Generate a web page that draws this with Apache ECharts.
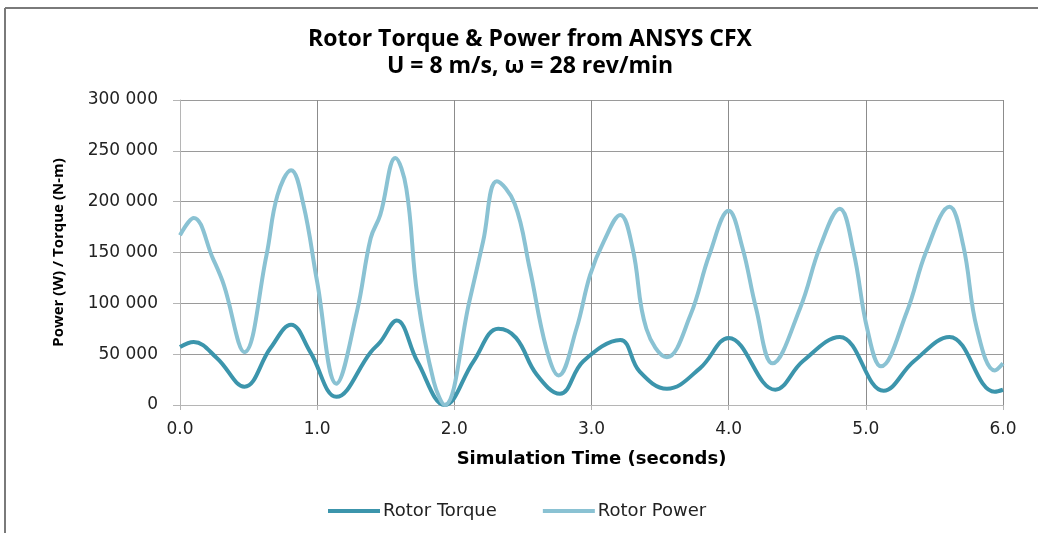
<!DOCTYPE html>
<html>
<head>
<meta charset="utf-8">
<script src="https://cdn.jsdelivr.net/npm/echarts@6/dist/echarts.min.js"></script>
<style>
  html, body { margin: 0; padding: 0; background: #fff; }
  #chart { width: 1038px; height: 533px; }
</style>
</head>
<body>
<div id="chart"></div>
<script>
// values (seconds, N-m / W)
const torqueTime = [0.00, 0.10, 0.27, 0.47, 0.66, 0.81, 0.95, 1.14, 1.39, 1.46, 1.58, 1.73, 1.93,
  2.14, 2.32, 2.45, 2.60, 2.77, 2.94, 3.21, 3.35, 3.55, 3.79, 4.00, 4.34, 4.54, 4.81, 5.13, 5.35, 5.61, 5.94, 6.00]
const torqueValues = [57000, 62000, 46000, 18000, 56000, 79000, 52000, 8000, 52000, 62000, 83000, 43000, 0,
  43000, 75000, 66000, 30000, 11000, 43000, 64000, 33000, 16000, 36000, 66000, 15000, 43000, 67000, 14000, 43000, 67000, 13000, 15000]

const powerTime = [0.00, 0.10, 0.24, 0.32, 0.47, 0.63, 0.71, 0.81, 0.90, 1.00, 1.14, 1.29, 1.39, 1.46, 1.57, 1.65, 1.73, 1.85, 1.93,
  2.11, 2.21, 2.31, 2.44, 2.55, 2.67, 2.76, 2.89, 2.99, 3.09, 3.21, 3.30, 3.40, 3.55, 3.72, 3.86, 4.00,
  4.10, 4.20, 4.32, 4.52, 4.67, 4.81, 4.91, 5.01, 5.11, 5.30, 5.44, 5.61, 5.71, 5.81, 5.94, 6.00]
const powerValues = [167000, 184000, 144000, 118000, 52000, 147000, 206000, 231000, 197000, 121000, 21000, 92000, 164000, 187000, 243000, 213000, 108000, 23000, 0,
  102000, 161000, 220000, 198000, 134000, 56000, 29000, 75000, 128000, 161000, 187000, 154000, 75000, 47000, 88000, 148000, 191000,
  155000, 95000, 41000, 95000, 157000, 193000, 151000, 75000, 38000, 92000, 151000, 195000, 157000, 75000, 34000, 41000]

const xTicks = ['0.0', '1.0', '2.0', '3.0', '4.0', '5.0', '6.0']

const chart = echarts.init(document.getElementById('chart'))

function pairs(t, v) {
  return t.map((x, i) => [x, v[i]])
}

chart.setOption({
  animation: false,
  backgroundColor: '#fff',
  color: ['#3c95ac', '#8ac2d3'],
  title: {
    text: 'Rotor Torque & Power from ANSYS CFX\nU = 8 m/s, ω = 28 rev/min',
    left: 525,
    textAlign: 'center',
    top: 21,
    textStyle: {
      fontFamily: 'Open Sans',
      fontWeight: 'bold',
      fontSize: 23,
      lineHeight: 27,
      color: '#000'
    }
  },
  legend: {
    left: 323,
    top: 497,
    itemWidth: 52,
    itemHeight: 4,
    itemGap: 46,
    icon: 'rect',
    textStyle: { fontFamily: 'DejaVu Sans', fontSize: 18, color: '#222', padding: [0, 0, 0, -2] },
    data: ['Rotor Torque', 'Rotor Power']
  },
  grid: { left: 180, right: 35, top: 100, bottom: 128 },
  xAxis: {
    type: 'value',
    min: 0,
    max: 6,
    interval: 1,
    name: 'Simulation Time (seconds)',
    nameLocation: 'middle',
    nameGap: 45,
    nameTextStyle: { fontFamily: 'DejaVu Sans', fontWeight: 'bold', fontSize: 18, color: '#000' },
    axisLine: { lineStyle: { color: '#b5b5b5' } },
    axisTick: { show: true, length: 5, lineStyle: { color: '#b5b5b5' } },
    axisLabel: {
      margin: 16,
      fontFamily: 'DejaVu Sans',
      fontSize: 17,
      color: '#222',
      formatter: v => xTicks[Math.round(v)]
    },
    splitLine: { show: true, lineStyle: { color: '#8c8c8c' } }
  },
  yAxis: {
    type: 'value',
    min: 0,
    max: 300000,
    interval: 50000,
    name: 'Power (W) / Torque (N-m)',
    nameLocation: 'middle',
    nameGap: 114,
    nameTextStyle: { fontFamily: 'Open Sans', fontWeight: 'bold', fontSize: 15, color: '#000' },
    axisLine: { show: true, lineStyle: { color: '#b5b5b5' } },
    axisTick: { show: true, length: 7, lineStyle: { color: '#b5b5b5' } },
    axisLabel: {
      margin: 22,
      fontFamily: 'DejaVu Sans',
      fontSize: 17,
      color: '#222',
      formatter: v => v === 0 ? '0' : String(v).replace(/(\d)(?=(\d{3})+$)/g, '$1 ')
    },
    splitLine: { show: true, lineStyle: { color: '#9a9a9a' } }
  },
  graphic: [
    { type: 'line', shape: { x1: 5, y1: 8, x2: 5, y2: 533 }, style: { stroke: '#7a7a7a', lineWidth: 2 } },
    { type: 'line', shape: { x1: 5, y1: 8, x2: 1038, y2: 8 }, style: { stroke: '#7a7a7a', lineWidth: 2 } }
  ],
  series: [
    {
      name: 'Rotor Torque',
      type: 'line',
      smooth: 0.4,
      showSymbol: false,
      lineStyle: { width: 4 },
      data: pairs(torqueTime, torqueValues)
    },
    {
      name: 'Rotor Power',
      type: 'line',
      smooth: 0.4,
      showSymbol: false,
      lineStyle: { width: 4 },
      data: pairs(powerTime, powerValues)
    }
  ]
})
</script>
</body>
</html>
